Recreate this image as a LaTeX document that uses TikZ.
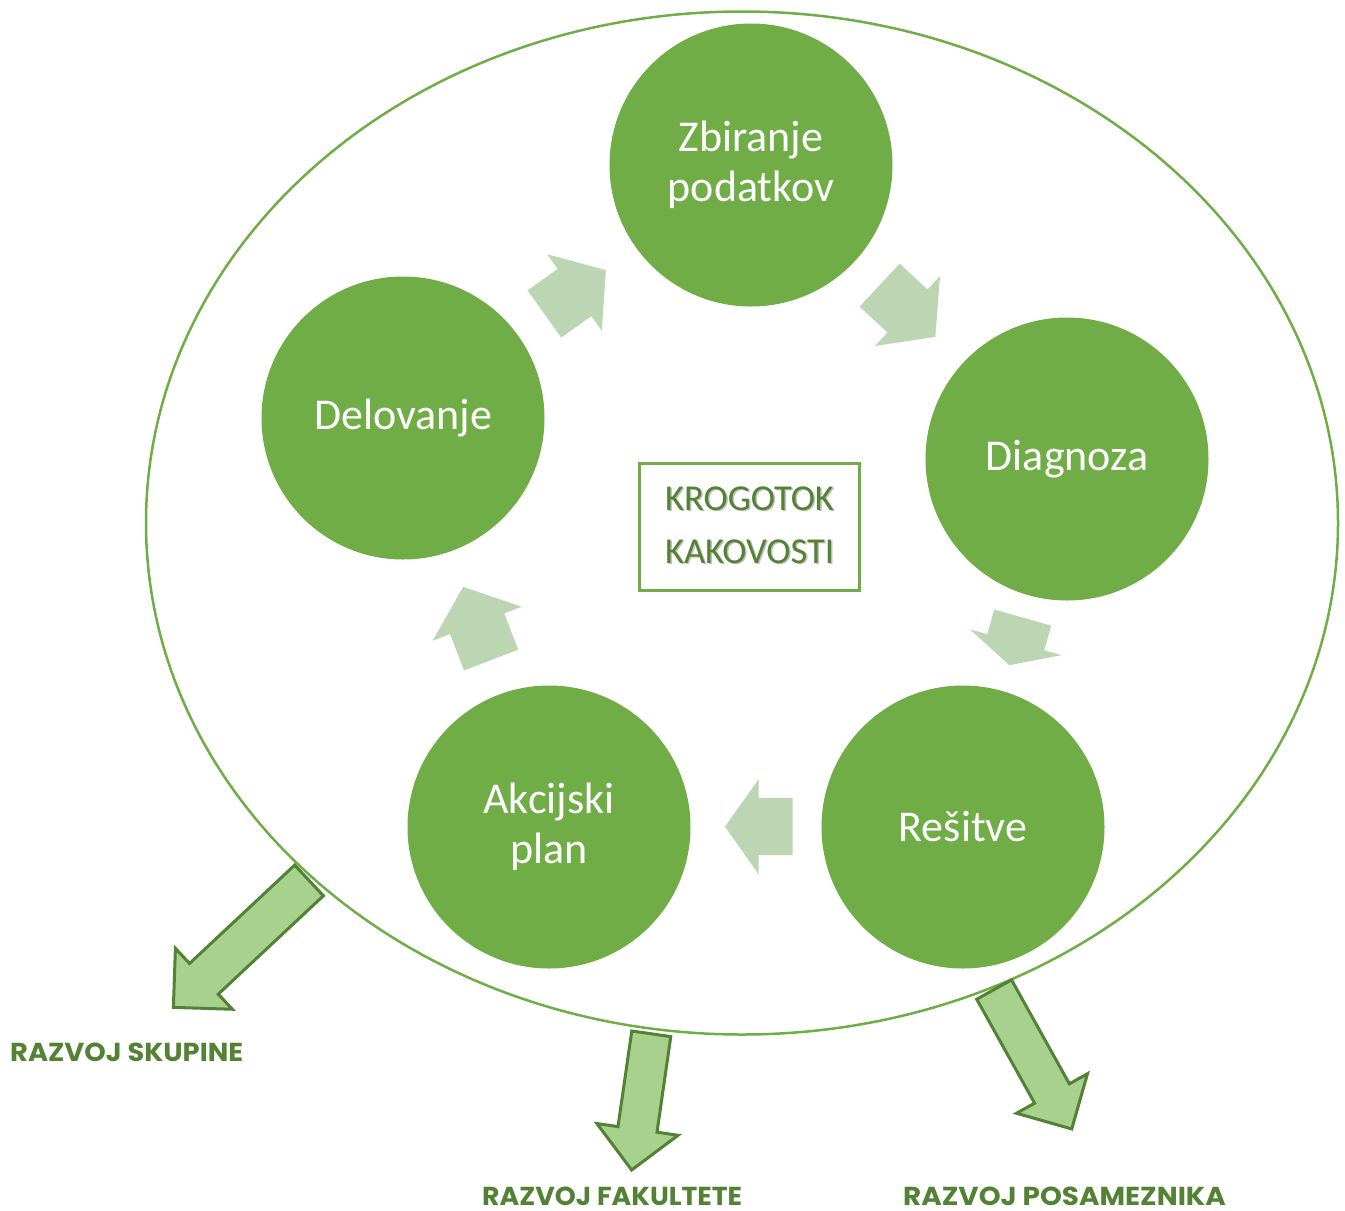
\documentclass[tikz,border=0pt]{standalone}
\usepackage{fontspec}
\setmainfont{Carlito}
\newfontfamily\labelfont{Poppins}
\usetikzlibrary{shapes.geometric}
\definecolor{cgreen}{HTML}{70AD47}
\definecolor{dgreen}{HTML}{548235}
\definecolor{lgreen}{HTML}{BCD5B3}
\definecolor{bgreen}{HTML}{A9D18E}
\definecolor{bline}{HTML}{538135}
% block arrow: junction position, angle, shaft length, head length, shaft half width, head half width, style
\newcommand\blockarr[7]{%
  \begin{scope}[shift={#1},rotate=#2]
    \path[#7] (-#3,-#5) -- (0,-#5) -- (0,-#6) -- (#4,0) -- (0,#6) -- (0,#5) -- (-#3,#5) -- cycle;
  \end{scope}}
\tikzset{
  stage/.style={circle, fill=cgreen, draw=none, minimum size=283, inner sep=0pt,
    text=white, align=center, font=\fontsize{44}{50}\selectfont},
  cyclearrow/.style={fill=lgreen, draw=none},
  outarrow/.style={fill=bgreen, draw=bline, line width=3pt},
  lbl/.style={anchor=base west, inner sep=0pt, text depth=0pt, text=dgreen, font=\labelfont\bfseries\fontsize{26}{30}\selectfont},
  ring/.style={ellipse, draw=cgreen, line width=2.5pt, minimum width=1192, minimum height=1023, inner sep=0pt},
  boxtxt/.style={align=center, font=\fontsize{36.5}{53}\selectfont}
}
\begin{document}
\begin{tikzpicture}[x=1pt,y=-1pt]
\useasboundingbox (0,0) rectangle (1345,1211);
\node[ring] (ring) at (742,523) {};
% output arrows
\blockarr{(203.9,978.8)}{223.1}{144}{41.8}{21}{41.7}{outarrow}
\blockarr{(637.5,1129.4)}{-98.2}{96.6}{41}{19.7}{41}{outarrow}
\blockarr{(1052,1093.5)}{-60.9}{119}{40.6}{19.9}{40.6}{outarrow}
% stages
\node[stage] (zb) at (751,165) {Zbiranje\\podatkov};
\node[stage] (dg) at (1067,459) {Diagnoza};
\node[stage] (rs) at (963,827) {Rešitve};
\node[stage] (ak) at (549,827) {Akcijski\\plan};
\node[stage] (de) at (403,418) {Delovanje};
% cycle arrows
\blockarr{(574.5,292.5)}{35.5}{37}{38.5}{29}{47}{cyclearrow}
\blockarr{(907.5,311)}{-42.9}{38}{38}{29.4}{47.7}{cyclearrow}
\blockarr{(1015.8,642.2)}{-105.7}{25.6}{23.8}{29.6}{47.8}{cyclearrow}
\blockarr{(758.5,826.7)}{180}{34}{33.5}{28.5}{47.4}{cyclearrow}
\blockarr{(477.2,623.7)}{110.9}{38.9}{39.5}{29}{47.6}{cyclearrow}
% centre box
\node[draw=cgreen, line width=2.5pt, minimum width=220, minimum height=127, inner sep=0pt] (box) at (749.5,527) {};
\node[boxtxt, text=black!25] (boxshadow) at (751,526.5) {KROGOTOK\\KAKOVOSTI};
\node[boxtxt, text=dgreen] (boxtext) at (749.5,525) {KROGOTOK\\KAKOVOSTI};
% labels
\node[lbl] (l1) at (10,1061.5) {\scalebox{1.052}[1]{RAZVOJ SKUPINE}};
\node[lbl] (l2) at (482,1205) {\scalebox{1.029}[1]{RAZVOJ FAKULTETE}};
\node[lbl] (l3) at (903,1205) {\scalebox{1.071}[1]{RAZVOJ POSAMEZNIKA}};
\end{tikzpicture}
\end{document}
